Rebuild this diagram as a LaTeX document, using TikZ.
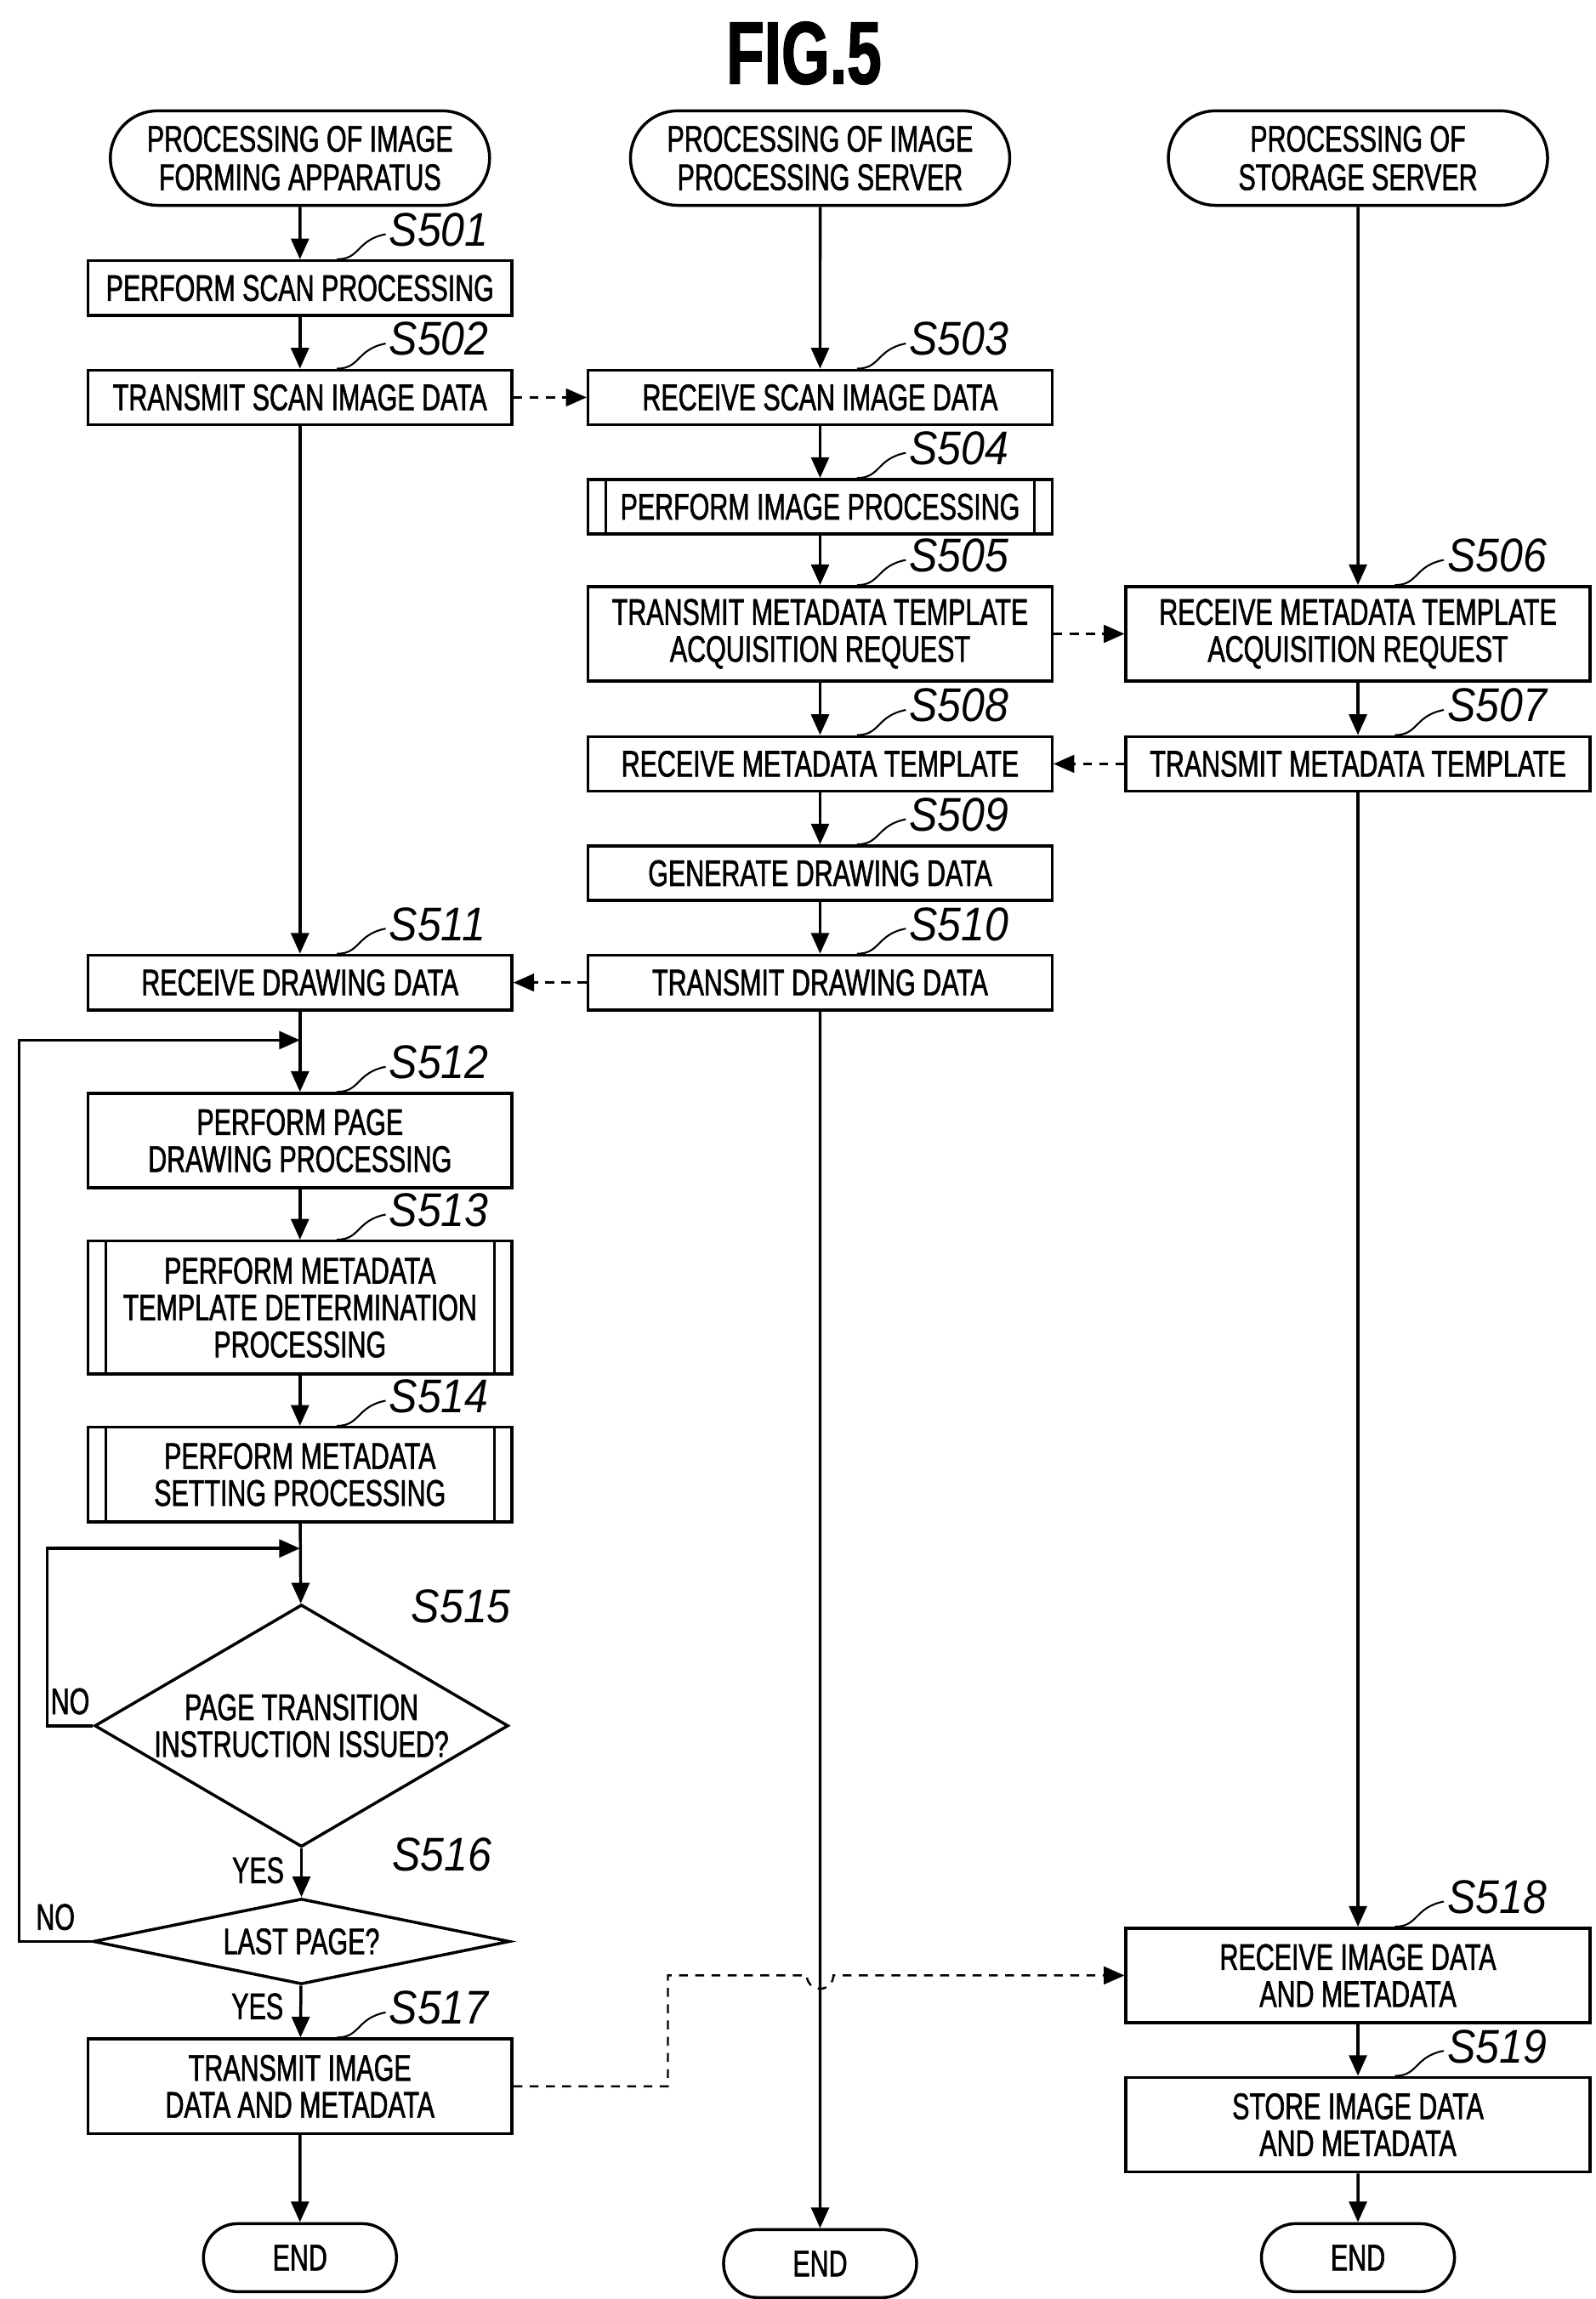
\documentclass[tikz,border=0pt]{standalone}
\usepackage{fontspec}
\setmainfont{Liberation Sans}[FakeStretch=0.7,FakeBold=1.4]
\newfontfamily\stepfont{Liberation Sans}[FakeStretch=0.9]
\usepackage{tikz}
\usetikzlibrary{positioning}
\usetikzlibrary{shapes,shapes.geometric,shapes.misc,arrows.meta}
\tikzstyle{terminal} = [rounded rectangle, draw, line width=1pt, minimum width=135pt, minimum height=32pt, align=center, font=\fontsize{12.5}{13}\selectfont]
\tikzstyle{endnode} = [rounded rectangle, draw, line width=1pt, minimum width=72pt, minimum height=23pt, font=\fontsize{12.5}{13}\selectfont]
\tikzstyle{procbox} = [rectangle, draw, line width=1pt, minimum width=143.5pt, minimum height=18.5pt, align=center, inner sep=1pt, font=\fontsize{12.5}{12.5}\selectfont]
\tikzstyle{wbox} = [procbox, minimum width=157pt]
\tikzstyle{predef} = [path picture={\draw[line width=1pt] ([xshift=6pt]path picture bounding box.north west) -- ([xshift=6pt]path picture bounding box.south west) ([xshift=-6pt]path picture bounding box.north east) -- ([xshift=-6pt]path picture bounding box.south east);}]
\tikzstyle{decision} = [diamond, draw, line width=1pt, align=center, inner sep=0pt, font=\fontsize{12.5}{12.5}\selectfont]
\tikzstyle{tag} = [anchor=west, inner sep=0pt, font=\stepfont\itshape\fontsize{16}{16}\selectfont]
\tikzstyle{flow} = [draw, line width=1pt, -{Triangle[length=7pt,width=6pt]}]
\tikzstyle{msg}  = [draw, line width=0.7pt, dashed, dash pattern=on 3pt off 2.5pt, -{Triangle[length=7pt,width=6pt]}]
\newcommand{\steptag}[2]{%
  \draw[line width=0.6pt] ([xshift=12.5pt]#1.north) .. controls +(8pt,0) and +(-10pt,-2pt) .. ([xshift=29pt,yshift=8.5pt]#1.north);
  \node[tag] at ([xshift=30pt,yshift=10pt]#1.north) {#2};}

\begin{document}
\begin{tikzpicture}[x=0.5pt,y=-0.5pt]
	\useasboundingbox (0,0) rectangle (1080,1556);
	% title node
	\node[font=\bfseries\fontsize{30}{30}\selectfont] at (544,36) {FIG.5};

	% place nodes
	\node [terminal] (T1) at (203,107) {PROCESSING OF IMAGE\\FORMING APPARATUS};
	\node [terminal] (T2) at (555,107) {PROCESSING OF IMAGE\\PROCESSING SERVER};
	\node [terminal] (T3) at (919,107) {PROCESSING OF\\STORAGE SERVER};

	\node [procbox] (S501) at (203,195) {PERFORM SCAN PROCESSING};
	\node [procbox] (S502) at (203,269) {TRANSMIT SCAN IMAGE DATA};
	\node [wbox] (S503) at (555,269) {RECEIVE SCAN IMAGE DATA};
	\node [wbox, predef] (S504) at (555,343) {PERFORM IMAGE PROCESSING};
	\node [wbox, minimum height=32pt] (S505) at (555,429) {TRANSMIT METADATA TEMPLATE\\ACQUISITION REQUEST};
	\node [wbox, minimum height=32pt] (S506) at (919,429) {RECEIVE METADATA TEMPLATE\\ACQUISITION REQUEST};
	\node [wbox] (S507) at (919,517) {TRANSMIT METADATA TEMPLATE};
	\node [wbox] (S508) at (555,517) {RECEIVE METADATA TEMPLATE};
	\node [wbox] (S509) at (555,591) {GENERATE DRAWING DATA};
	\node [wbox] (S510) at (555,665) {TRANSMIT DRAWING DATA};
	\node [procbox] (S511) at (203,665) {RECEIVE DRAWING DATA};
	\node [procbox, minimum height=32pt] (S512) at (203,772) {PERFORM PAGE\\DRAWING PROCESSING};
	\node [procbox, predef, minimum height=45pt] (S513) at (203,885) {PERFORM METADATA\\TEMPLATE DETERMINATION\\PROCESSING};
	\node [procbox, predef, minimum height=32pt] (S514) at (203,998) {PERFORM METADATA\\SETTING PROCESSING};
	\node [decision, aspect=1.7, minimum width=140pt, minimum height=82pt] (S515) at (204,1168) {PAGE TRANSITION\\INSTRUCTION ISSUED?};
	\node [decision, aspect=4.8, minimum width=141pt, minimum height=29pt] (S516) at (204,1314) {LAST PAGE?};
	\node [procbox, minimum height=32pt] (S517) at (203,1412) {TRANSMIT IMAGE\\DATA AND METADATA};
	\node [wbox, minimum height=32pt] (S518) at (919,1337) {RECEIVE IMAGE DATA\\AND METADATA};
	\node [wbox, minimum height=32pt] (S519) at (919,1438) {STORE IMAGE DATA\\AND METADATA};
	\node [endnode] (E1) at (203,1528) {END};
	\node [endnode] (E2) at (555,1532) {END};
	\node [endnode] (E3) at (919,1528) {END};

	% step tags
	\foreach \s in {S501,S502,S503,S504,S505,S506,S507,S508,S509,S510,S511,S512,S513,S514,S517,S518,S519}
		\steptag{\s}{\s};
	\node [tag] at (278,1087) {S515};
	\node [tag] at (265,1255) {S516};

	% draw edges
	\coordinate (J1) at (203,704);
	\coordinate (J2) at (203,1048);
	\path [flow] (T1) -- (S501);
	\path [flow] (S501) -- (S502);
	\path [flow] (S502) -- (S511);
	\path [flow] (S511) -- (S512);
	\path [flow] (S512) -- (S513);
	\path [flow] (S513) -- (S514);
	\path [flow] (S514) -- (S515);
	\path [flow] (S515) -- node[left, font=\fontsize{12.5}{12.5}\selectfont, pos=0.45] {YES\,} (S516);
	\path [flow] (S516) -- node[left, font=\fontsize{12.5}{12.5}\selectfont, pos=0.4] {YES\,} (S517);
	\path [flow] (S517) -- (E1);
	\path [flow] (S515.west) -- node[above, pos=0.5, font=\fontsize{12.5}{12.5}\selectfont] {NO} (32,1168) -- (32,1048) -- (J2);
	\path [flow] (S516.west) -- node[above, pos=0.5, font=\fontsize{12.5}{12.5}\selectfont] {NO} (13,1314) -- (13,704) -- (J1);
	\path [flow] (T2) -- (S503);
	\path [flow] (S503) -- (S504);
	\path [flow] (S504) -- (S505);
	\path [flow] (S505) -- (S508);
	\path [flow] (S508) -- (S509);
	\path [flow] (S509) -- (S510);
	\path [flow] (S510) -- (E2);
	\path [flow] (T3) -- (S506);
	\path [flow] (S506) -- (S507);
	\path [flow] (S507) -- (S518);
	\path [flow] (S518) -- (S519);
	\path [flow] (S519) -- (E3);
	\path [msg] (S502) -- (S503);
	\path [msg] (S505) -- (S506);
	\path [msg] (S507) -- (S508);
	\path [msg] (S510) -- (S511);
	\path [msg] (S517.east) -- (452,1412) -- (452,1337) -- (546,1337) arc (180:0:9) -- (S518.west);
\end{tikzpicture}
\end{document}
